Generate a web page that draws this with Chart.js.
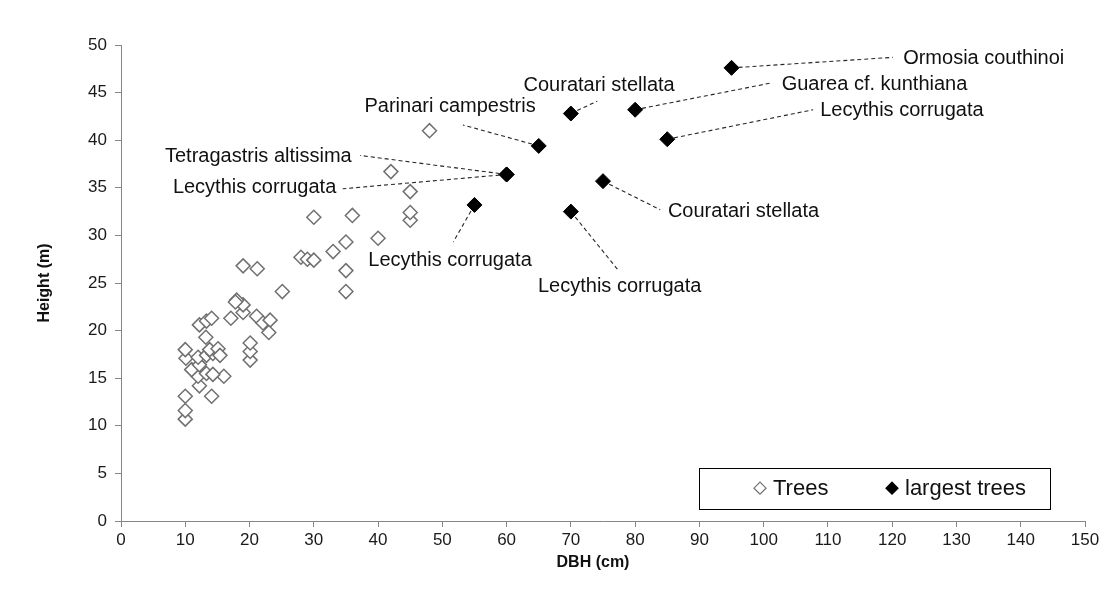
<!DOCTYPE html>
<html>
<head>
<meta charset="utf-8">
<script src="https://cdn.jsdelivr.net/npm/chart.js@4/dist/chart.umd.min.js"></script>
<style>
  html, body { margin: 0; padding: 0; background: #fff; }
  #wrap { width: 1104px; height: 602px; }
</style>
</head>
<body>
<div id="wrap"><canvas id="chart" width="1104" height="602"></canvas></div>
<script>
// Trees (open diamonds)
var treeDBH = [10, 10, 10, 14.1, 12.2, 12, 16, 13.3, 14.3, 11, 12.2, 10.1, 10, 12, 13.3, 14.3, 13.8, 15.1, 15.4,
    20.1, 20.1, 20.1, 13.2, 12.2, 13.3, 14.1, 17.1, 19, 21.1, 22.1, 23.2, 23, 19, 18, 17.8, 25.1, 19, 21.2,
    28, 29, 30, 33, 35, 40, 35, 35, 30, 36, 45, 45, 45, 42, 48];
var treeHeight = [10.7, 11.6, 13.1, 13.1, 14.2, 15.2, 15.2, 15.5, 15.4, 15.9, 16.4, 17.1, 18.0, 17.2, 17.4, 17.6, 18.0, 18.1, 17.4,
    16.9, 17.8, 18.7, 19.3, 20.6, 21.0, 21.3, 21.3, 21.9, 21.5, 20.8, 21.1, 19.8, 22.7, 23.2, 23.0, 24.1, 26.8, 26.5,
    27.7, 27.5, 27.4, 28.3, 29.3, 29.7, 26.3, 24.1, 31.9, 32.1, 31.6, 32.4, 34.6, 36.7, 41.0];

// largest trees (filled diamonds)
var bigDBH = [95, 80, 85, 70, 65, 60, 60, 55, 70, 75];
var bigHeight = [47.6, 43.2, 40.1, 42.8, 39.4, 36.4, 36.4, 33.2, 32.5, 35.7];
var bigNames = ["Ormosia couthinoi", "Guarea cf. kunthiana", "Lecythis corrugata", "Couratari stellata",
    "Parinari campestris", "Tetragastris altissima", "Lecythis corrugata", "Lecythis corrugata",
    "Lecythis corrugata", "Couratari stellata"];

// label anchors (data units): text position, alignment, end of leader line
var nameX = [121.7, 102.8, 108.8, 74.4, 51.2, 35.9, 33.5, 51.2, 77.6, 85.1];
var nameY = [48.6, 45.9, 43.1, 45.7, 43.5, 38.3, 35.0, 27.4, 24.6, 32.5];
var nameAlign = ["left", "left", "left", "center", "center", "right", "right", "center", "center", "left"];
var leaderX = [120.1, 101.1, 107.7, 74.1, 53.2, 37.2, 34.5, 51.7, 77.3, 83.9];
var leaderY = [48.7, 46.0, 43.2, 44.1, 41.6, 38.4, 34.9, 29.3, 26.4, 32.7];

var xTicksMin = 0, xTicksMax = 150, xStep = 10;
var yTicksMin = 0, yTicksMax = 50, yStep = 5;
var xTitle = 'DBH (cm)', yTitle = 'Height (m)';

var FONT = "'Liberation Sans', Arial, sans-serif";

function toPoints(xs, ys) {
    return xs.map(function (x, i) { return { x: x, y: ys[i] }; });
}

var labelsPlugin = {
    id: 'treeLabels',
    afterDatasetsDraw: function (chart) {
        var ctx = chart.ctx;
        var xs = chart.scales.x, ys = chart.scales.y;
        var meta = chart.getDatasetMeta(1);
        ctx.save();
        ctx.strokeStyle = '#262626';
        ctx.lineWidth = 1.1;
        ctx.setLineDash([4, 3]);
        meta.data.forEach(function (pt, i) {
            var ex = xs.getPixelForValue(leaderX[i]);
            var ey = ys.getPixelForValue(leaderY[i]);
            var dx = ex - pt.x, dy = ey - pt.y;
            var len = Math.sqrt(dx * dx + dy * dy);
            ctx.beginPath();
            ctx.moveTo(pt.x + dx / len * 7, pt.y + dy / len * 7);
            ctx.lineTo(ex, ey);
            ctx.stroke();
        });
        ctx.setLineDash([]);
        ctx.fillStyle = '#111';
        ctx.font = '20px ' + FONT;
        ctx.textBaseline = 'middle';
        bigNames.forEach(function (name, i) {
            ctx.textAlign = nameAlign[i];
            ctx.fillText(name, xs.getPixelForValue(nameX[i]), ys.getPixelForValue(nameY[i]));
        });
        ctx.restore();
    },
    afterDraw: function (chart) {
        var ctx = chart.ctx;
        var xs = chart.scales.x, ys = chart.scales.y;
        var area = chart.chartArea;
        ctx.save();
        // x axis title (sits a little left of the plot centre, as in the original)
        ctx.fillStyle = '#111';
        ctx.font = 'bold 16px ' + FONT;
        ctx.textAlign = 'center';
        ctx.textBaseline = 'middle';
        ctx.fillText(xTitle, (area.left + area.right) / 2 - 10, 563);

        // legend box inside plot area
        var left = xs.getPixelForValue(89.9), right = xs.getPixelForValue(144.5);
        var top = ys.getPixelForValue(5.6), bottom = ys.getPixelForValue(1.3);
        var mid = (top + bottom) / 2;
        ctx.fillStyle = '#fff';
        ctx.fillRect(left, top, right - left, bottom - top);
        ctx.strokeStyle = '#000';
        ctx.lineWidth = 1;
        ctx.strokeRect(Math.round(left) + 0.5, Math.round(top) + 0.5, Math.round(right - left), Math.round(bottom - top));
        var items = chart.data.datasets;
        var pos = [760, 892];
        ctx.font = '22px ' + FONT;
        ctx.textAlign = 'left';
        items.forEach(function (ds, i) {
            ctx.fillStyle = ds.pointBackgroundColor;
            ctx.strokeStyle = ds.pointBorderColor;
            ctx.lineWidth = 1.2;
            ctx.beginPath();
            ctx.moveTo(pos[i], mid - 6);
            ctx.lineTo(pos[i] + 6, mid);
            ctx.lineTo(pos[i], mid + 6);
            ctx.lineTo(pos[i] - 6, mid);
            ctx.closePath();
            ctx.fill();
            ctx.stroke();
            ctx.fillStyle = '#111';
            ctx.fillText(ds.label, pos[i] + 13, mid + 1);
        });
        ctx.restore();
    }
};

new Chart(document.getElementById('chart'), {
    type: 'scatter',
    data: {
        datasets: [{
            label: 'Trees',
            data: toPoints(treeDBH, treeHeight),
            pointStyle: 'rectRot',
            pointRadius: 7,
            pointHoverRadius: 7,
            pointBorderWidth: 1.5,
            pointBorderColor: '#707070',
            pointBackgroundColor: '#ffffff'
        }, {
            label: 'largest trees',
            data: toPoints(bigDBH, bigHeight),
            pointStyle: 'rectRot',
            pointRadius: 7.5,
            pointHoverRadius: 7.5,
            pointBorderWidth: 1,
            pointBorderColor: '#000000',
            pointBackgroundColor: '#000000'
        }]
    },
    options: {
        responsive: false,
        animation: false,
        events: [],
        layout: { padding: { left: 0, top: 45, right: 19, bottom: 0 } },
        plugins: {
            legend: { display: false },
            tooltip: { enabled: false }
        },
        scales: {
            x: {
                type: 'linear',
                min: xTicksMin,
                max: xTicksMax,
                afterFit: function (scale) { scale.height = 81; },
                ticks: {
                    stepSize: xStep,
                    padding: 3,
                    color: '#1a1a1a',
                    font: { family: FONT, size: 17 }
                },
                grid: { drawOnChartArea: false, drawTicks: true, tickLength: 6, color: '#868686' },
                border: { display: true, color: '#868686', width: 1 },
                title: { display: false }
            },
            y: {
                type: 'linear',
                min: yTicksMin,
                max: yTicksMax,
                afterFit: function (scale) { scale.width = 121; },
                ticks: {
                    stepSize: yStep,
                    padding: 8,
                    color: '#1a1a1a',
                    font: { family: FONT, size: 17 }
                },
                grid: { drawOnChartArea: false, drawTicks: true, tickLength: 6, color: '#868686' },
                border: { display: true, color: '#868686', width: 1 },
                title: {
                    display: true,
                    text: yTitle,
                    color: '#111',
                    font: { family: FONT, size: 16, weight: 'bold' },
                    padding: { top: 35, bottom: 0 }
                }
            }
        }
    },
    plugins: [labelsPlugin]
});
</script>
</body>
</html>
